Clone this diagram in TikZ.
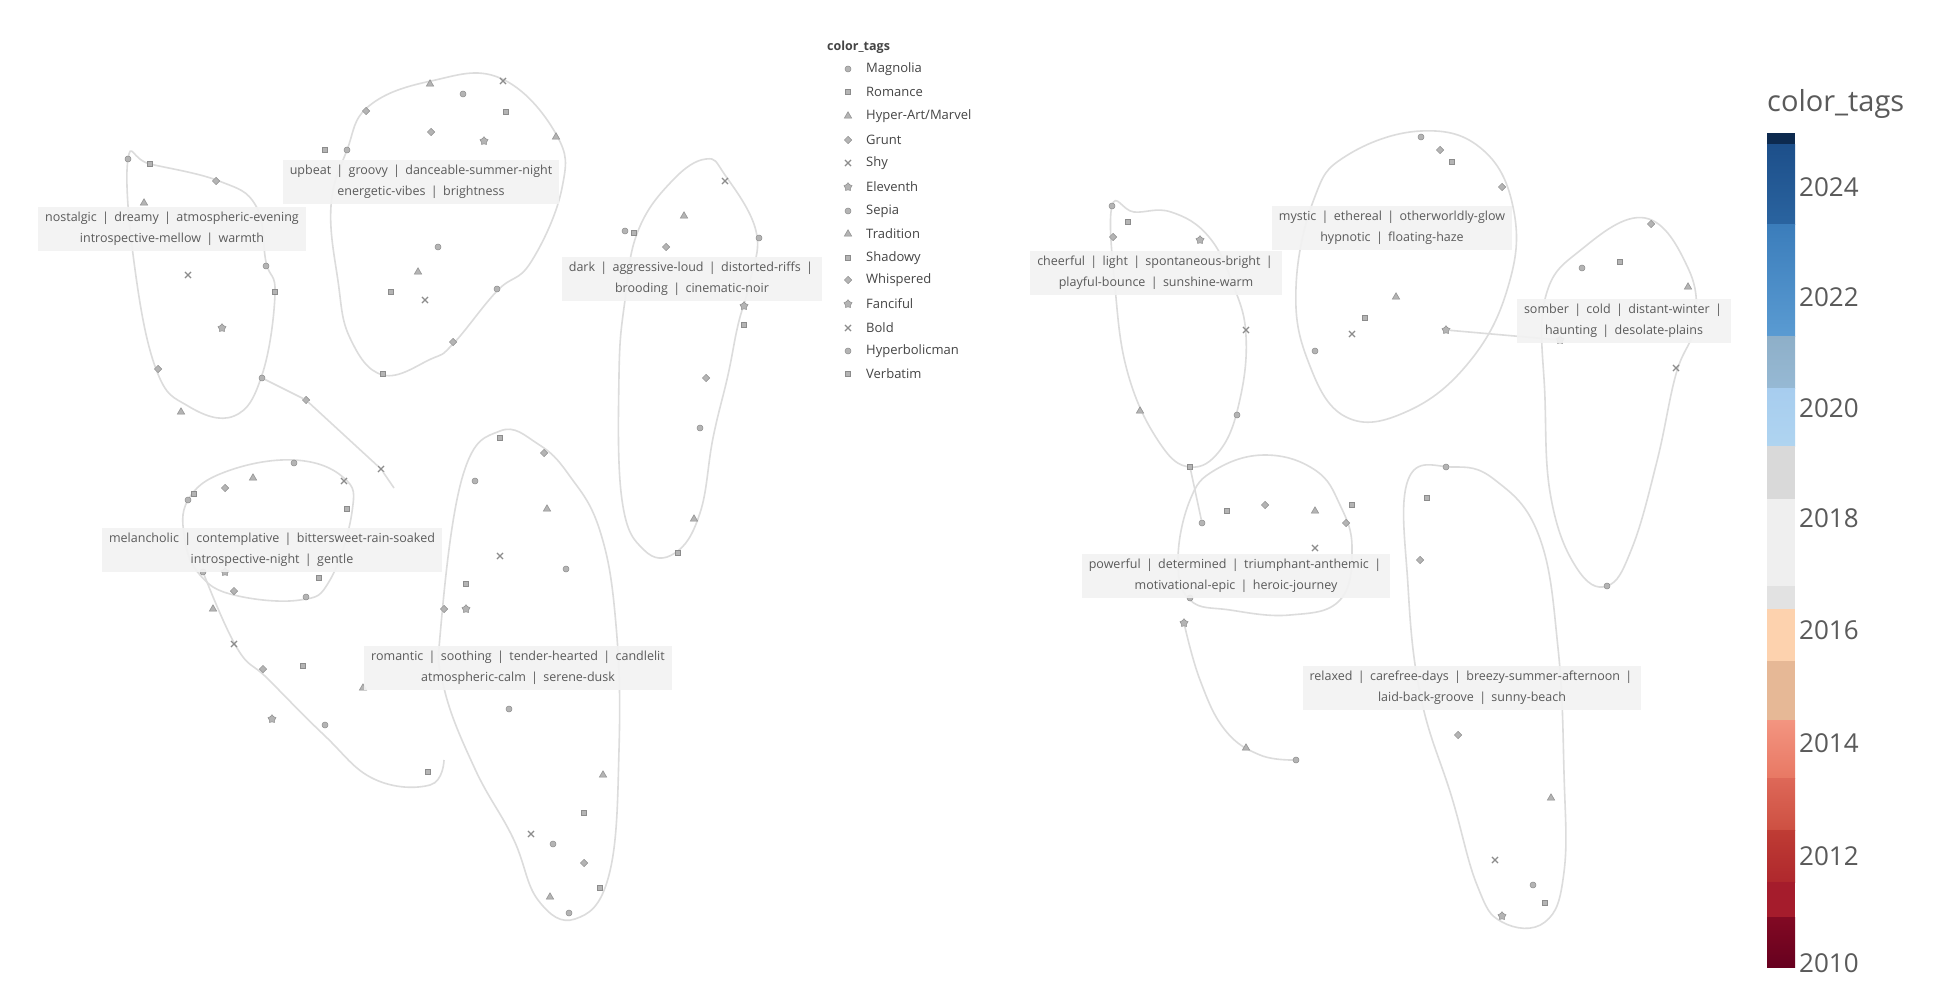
\documentclass[tikz,border=0pt]{standalone}
\usepackage{fontspec}
\setmainfont{Open Sans}
\usetikzlibrary{shapes.geometric,shapes.misc}
\definecolor{edgec}{HTML}{DCDCDC}
\definecolor{mkfill}{HTML}{B4B4B4}
\definecolor{mkdraw}{HTML}{8C8C8C}
\definecolor{lblbg}{HTML}{F2F2F2}
\definecolor{lbltext}{HTML}{5A5A5A}
\definecolor{legtext}{HTML}{444444}
\definecolor{cb01}{HTML}{0D2A4F}
\definecolor{cb02a}{HTML}{1D4F8A}\definecolor{cb02b}{HTML}{2A64A0}
\definecolor{cb03a}{HTML}{3B7DBB}\definecolor{cb03b}{HTML}{5A9BD2}
\definecolor{cb04a}{HTML}{8EAFC8}\definecolor{cb04b}{HTML}{96B9D4}
\definecolor{cb05a}{HTML}{A7CDEF}\definecolor{cb05b}{HTML}{AFD4F0}
\definecolor{cb06}{HTML}{D9D9D9}
\definecolor{cb07}{HTML}{EFEFEF}
\definecolor{cb08}{HTML}{E2E2E2}
\definecolor{cb09}{HTML}{FDD2AE}
\definecolor{cb10}{HTML}{E6B896}
\definecolor{cb11a}{HTML}{F39580}\definecolor{cb11b}{HTML}{E87864}
\definecolor{cb12a}{HTML}{DE6858}\definecolor{cb12b}{HTML}{CD5042}
\definecolor{cb13a}{HTML}{BF3C34}\definecolor{cb13b}{HTML}{AF282D}
\definecolor{cb14}{HTML}{A51C2C}
\definecolor{cb15a}{HTML}{820A23}\definecolor{cb15b}{HTML}{67001F}
\tikzset{
  edge/.style={draw=edgec, line width=1.6pt},
  mk/.style={inner sep=0pt, minimum size=6pt, fill=mkfill, draw=mkdraw, line width=0.5pt},
  m1/.style={circle},
  m2/.style={rectangle, minimum size=5pt},
  m3/.style={diamond, minimum size=7.5pt},
  m4/.style={regular polygon, regular polygon sides=3, minimum size=8.5pt},
  m5/.style={cross out, fill=none, minimum size=5pt, line width=1.1pt},
  m6/.style={star, star points=5, minimum size=8.5pt},
  lbl/.style={fill=lblbg, fill opacity=0.92, text opacity=1, text=lbltext, font=\fontsize{12.5}{21}\selectfont, align=center, inner xsep=7pt, inner ysep=5pt},
  legitem/.style={anchor=west, text=legtext, font=\fontsize{13}{14}\selectfont, inner sep=0pt},
  ticklbl/.style={anchor=west, text=lbltext, font=\fontsize{26}{28}\selectfont, inner sep=0pt}
}
\begin{document}
\begin{tikzpicture}[x=1pt,y=-1pt]
\useasboundingbox (0,0) rectangle (1954,992);
\fill[white] (0,0) rectangle (1954,992);

% ================= LEFT PANEL =================
\draw[edge] plot[smooth cycle, tension=0.7] coordinates {(128,159) (134,262) (156,369) (188,406) (234,416) (262,375) (275,294) (266,262) (256,206) (219,181) (150,164)};
\draw[edge] plot[smooth cycle, tension=0.7] coordinates {(347,150) (369,106) (431,81) (500,78) (556,134) (562,188) (531,262) (497,291) (453,344) (431,359) (383,375) (350,338) (338,281) (331,206)};
\draw[edge] plot[smooth cycle, tension=0.7] coordinates {(638,231) (672,181) (706,159) (725,175) (756,231) (750,281) (738,325) (728,375) (713,438) (700,513) (675,553) (644,550) (622,500) (619,375) (625,300)};
\draw[edge] plot[smooth cycle, tension=0.7] coordinates {(188,500) (225,472) (294,460) (344,478) (352,512) (330,580) (300,600) (234,595) (200,575) (185,540)};
\draw[edge] plot[smooth, tension=0.7] coordinates {(203,572) (237,648) (268,679) (324,735) (374,779) (430,785) (444,760)};
\draw[edge] plot[smooth cycle, tension=0.7] coordinates {(441,625) (463,475) (500,431) (538,444) (569,475) (600,531) (616,625) (619,750) (609,875) (575,919) (538,900) (513,838) (475,769) (444,688)};

% cluster A
\node[mk,m1] (a1) at (128,159) {}; \node[mk,m2] (a2) at (150,164) {};
\node[mk,m3] (a3) at (216,181) {}; \node[mk,m4] (a4) at (144,203) {};
\node[mk,m5] (a5) at (188,275) {}; \node[mk,m1] (a6) at (266,266) {};
\node[mk,m2] (a7) at (275,292) {}; \node[mk,m6] (a8) at (222,328) {};
\node[mk,m3] (a9) at (158,369) {}; \node[mk,m4] (a10) at (181,412) {};
\node[mk,m1] (a11) at (262,378) {};
\node[mk,m3] (ad1) at (306,400) {}; \node[mk,m5] (ad2) at (381,469) {};
\coordinate (ad3) at (394,488);
\draw[edge] (a11) -- (ad1) -- (ad2) -- (ad3);
% cluster B
\node[mk,m2] (b1) at (325,150) {}; \node[mk,m1] (b2) at (347,150) {};
\node[mk,m3] (b3) at (366,111) {}; \node[mk,m4] (b4) at (430,84) {};
\node[mk,m1] (b5) at (463,94) {}; \node[mk,m5] (b6) at (503,81) {};
\node[mk,m2] (b7) at (506,112) {}; \node[mk,m6] (b8) at (484,141) {};
\node[mk,m3] (b9) at (431,132) {}; \node[mk,m1] (b10) at (438,247) {};
\node[mk,m4] (b11) at (418,272) {}; \node[mk,m2] (b12) at (391,292) {};
\node[mk,m5] (b13) at (425,300) {}; \node[mk,m1] (b14) at (497,289) {};
\node[mk,m3] (b15) at (453,342) {}; \node[mk,m2] (b16) at (383,374) {};
\node[mk,m4] (b17) at (556,137) {};
% cluster C
\node[mk,m1] (c1) at (625,231) {}; \node[mk,m2] (c2) at (634,233) {};
\node[mk,m3] (c3) at (666,247) {}; \node[mk,m4] (c4) at (684,216) {};
\node[mk,m5] (c5) at (725,181) {}; \node[mk,m1] (c6) at (759,238) {};
\node[mk,m6] (c7) at (744,306) {}; \node[mk,m2] (c8) at (744,325) {};
\node[mk,m3] (c9) at (706,378) {}; \node[mk,m1] (c10) at (700,428) {};
\node[mk,m4] (c11) at (694,519) {}; \node[mk,m2] (c12) at (678,553) {};
% cluster D
\node[mk,m1] (d1) at (188,500) {}; \node[mk,m2] (d2) at (194,494) {};
\node[mk,m3] (d3) at (225,488) {}; \node[mk,m4] (d4) at (253,478) {};
\node[mk,m1] (d5) at (294,463) {}; \node[mk,m5] (d6) at (344,481) {};
\node[mk,m2] (d7) at (347,509) {}; \node[mk,m6] (d8) at (225,572) {};
\node[mk,m1] (d9) at (203,572) {}; \node[mk,m3] (d10) at (234,591) {};
\node[mk,m4] (d11) at (213,609) {}; \node[mk,m2] (d12) at (319,578) {};
\node[mk,m1] (d13) at (306,597) {}; \node[mk,m5] (d14) at (234,644) {};
\node[mk,m3] (d15) at (263,669) {}; \node[mk,m2] (d16) at (303,666) {};
\node[mk,m4] (d17) at (363,688) {}; \node[mk,m1] (d18) at (325,725) {};
\node[mk,m6] (d19) at (272,719) {}; \node[mk,m2] (d20) at (428,772) {};
% cluster E
\node[mk,m1] (e1) at (475,481) {}; \node[mk,m2] (e2) at (500,438) {};
\node[mk,m3] (e3) at (544,453) {}; \node[mk,m4] (e4) at (547,509) {};
\node[mk,m5] (e5) at (500,556) {}; \node[mk,m1] (e6) at (566,569) {};
\node[mk,m2] (e7) at (466,584) {}; \node[mk,m6] (e8) at (466,609) {};
\node[mk,m3] (e9) at (444,609) {}; \node[mk,m1] (e10) at (509,709) {};
\node[mk,m4] (e11) at (603,775) {}; \node[mk,m2] (e12) at (584,813) {};
\node[mk,m5] (e13) at (531,834) {}; \node[mk,m1] (e14) at (553,844) {};
\node[mk,m3] (e15) at (584,863) {}; \node[mk,m2] (e16) at (600,888) {};
\node[mk,m4] (e17) at (550,897) {}; \node[mk,m1] (e18) at (569,913) {};

% labels
\node[lbl] (L1) at (172,229) {nostalgic \,|\, dreamy \,|\, atmospheric-evening \\ introspective-mellow \,|\, warmth};
\node[lbl] (L2) at (421,182) {upbeat \,|\, groovy \,|\, danceable-summer-night \\ energetic-vibes \,|\, brightness};
\node[lbl] (L3) at (692,279) {dark \,|\, aggressive-loud \,|\, distorted-riffs \,|\, \\ brooding \,|\, cinematic-noir};
\node[lbl] (L4) at (272,550) {melancholic \,|\, contemplative \,|\, bittersweet-rain-soaked \\ introspective-night \,|\, gentle};
\node[lbl] (L5) at (518,668) {romantic \,|\, soothing \,|\, tender-hearted \,|\, candlelit \\ atmospheric-calm \,|\, serene-dusk};

% legend
\node[anchor=west, text=legtext, font=\bfseries\fontsize{12.5}{13}\selectfont, inner sep=0pt] (legt) at (827,47) {color\_tags};
\node[mk,m1] (lg1) at (848,69) {};   \node[legitem] (lt1) at (866,69) {Magnolia};
\node[mk,m2] (lg2) at (848,92) {};   \node[legitem] (lt2) at (866,92) {Romance};
\node[mk,m4] (lg3) at (848,116) {};  \node[legitem] (lt3) at (866,116) {Hyper-Art/Marvel};
\node[mk,m3] (lg4) at (848,140) {};  \node[legitem] (lt4) at (866,140) {Grunt};
\node[mk,m5] (lg5) at (848,163) {};  \node[legitem] (lt5) at (866,163) {Shy};
\node[mk,m6] (lg6) at (848,187) {};  \node[legitem] (lt6) at (866,187) {Eleventh};
\node[mk,m1] (lg7) at (848,211) {};  \node[legitem] (lt7) at (866,211) {Sepia};
\node[mk,m4] (lg8) at (848,234) {};  \node[legitem] (lt8) at (866,234) {Tradition};
\node[mk,m2] (lg9) at (848,258) {};  \node[legitem] (lt9) at (866,258) {Shadowy};
\node[mk,m3] (lg10) at (848,280) {}; \node[legitem] (lt10) at (866,280) {Whispered};
\node[mk,m6] (lg11) at (848,304) {}; \node[legitem] (lt11) at (866,304) {Fanciful};
\node[mk,m5] (lg12) at (848,328) {}; \node[legitem] (lt12) at (866,328) {Bold};
\node[mk,m1] (lg13) at (848,351) {}; \node[legitem] (lt13) at (866,351) {Hyperbolicman};
\node[mk,m2] (lg14) at (848,374) {}; \node[legitem] (lt14) at (866,374) {Verbatim};

% ================= RIGHT PANEL =================
\draw[edge] plot[smooth cycle, tension=0.7] coordinates {(1112,206) (1115,287) (1128,374) (1159,442) (1190,467) (1221,449) (1240,399) (1246,336) (1234,287) (1209,237) (1171,212) (1134,212)};
\draw[edge] plot[smooth cycle, tension=0.7] coordinates {(1314,199) (1346,156) (1421,131) (1483,150) (1514,212) (1508,287) (1470,361) (1408,411) (1346,417) (1308,361) (1296,287)};
\draw[edge] plot[smooth cycle, tension=0.7] coordinates {(1545,299) (1582,249) (1645,218) (1688,268) (1695,324) (1676,374) (1657,461) (1632,548) (1607,586) (1576,567) (1551,498) (1545,399)};
\draw[edge] plot[smooth cycle, tension=0.7] coordinates {(1190,500) (1215,470) (1265,455) (1315,470) (1340,505) (1352,548) (1340,600) (1290,615) (1230,610) (1190,600) (1178,560)};
\draw[edge] plot[smooth, tension=0.7] coordinates {(1184,623) (1200,680) (1225,730) (1260,755) (1296,760)};
\draw[edge] plot[smooth cycle, tension=0.7] coordinates {(1408,480) (1452,467) (1495,480) (1539,536) (1558,648) (1564,773) (1564,872) (1545,922) (1502,922) (1477,885) (1452,798) (1421,698) (1408,586)};

% cluster R1
\node[mk,m1] (p1) at (1112,206) {}; \node[mk,m2] (p2) at (1128,222) {};
\node[mk,m3] (p3) at (1113,237) {}; \node[mk,m4] (p4) at (1140,411) {};
\node[mk,m1] (p5) at (1237,415) {}; \node[mk,m5] (p6) at (1246,330) {};
\node[mk,m2] (p7) at (1190,467) {}; \node[mk,m6] (p8) at (1200,240) {};
% cluster R2
\node[mk,m1] (q1) at (1421,137) {}; \node[mk,m2] (q2) at (1452,162) {};
\node[mk,m3] (q3) at (1502,187) {}; \node[mk,m4] (q4) at (1396,297) {};
\node[mk,m5] (q5) at (1352,334) {}; \node[mk,m1] (q6) at (1315,351) {};
\node[mk,m6] (q7) at (1446,330) {}; \node[mk,m2] (q8) at (1365,318) {};
\node[mk,m3] (q9) at (1440,150) {};
% cluster R3
\node[mk,m1] (r1) at (1582,268) {}; \node[mk,m2] (r2) at (1620,262) {};
\node[mk,m3] (r3) at (1651,224) {}; \node[mk,m4] (r4) at (1688,287) {};
\node[mk,m5] (r5) at (1676,368) {}; \node[mk,m1] (r6) at (1607,586) {};
\node[mk,m6] (r7) at (1560,340) {};
% cluster R4
\node[mk,m1] (s1) at (1202,523) {}; \node[mk,m2] (s2) at (1227,511) {};
\node[mk,m3] (s3) at (1265,505) {}; \node[mk,m4] (s4) at (1315,511) {};
\node[mk,m5] (s5) at (1315,548) {}; \node[mk,m1] (s6) at (1190,598) {};
\node[mk,m6] (s7) at (1184,623) {}; \node[mk,m2] (s8) at (1352,505) {};
\node[mk,m3] (s9) at (1346,523) {}; \node[mk,m4] (s10) at (1246,748) {};
\node[mk,m1] (s11) at (1296,760) {};
% cluster R5
\node[mk,m1] (t1) at (1446,467) {}; \node[mk,m2] (t2) at (1427,498) {};
\node[mk,m3] (t3) at (1458,735) {}; \node[mk,m4] (t4) at (1551,798) {};
\node[mk,m5] (t5) at (1495,860) {}; \node[mk,m1] (t6) at (1533,885) {};
\node[mk,m6] (t7) at (1502,916) {}; \node[mk,m2] (t8) at (1545,903) {};
\node[mk,m3] (t9) at (1420,560) {};
\draw[edge] (p7) -- (s1);
\draw[edge] (q7) -- (r7);

% labels
\node[lbl] (R1) at (1156,273) {cheerful \,|\, light \,|\, spontaneous-bright \,|\, \\ playful-bounce \,|\, sunshine-warm};
\node[lbl] (R2) at (1392,228) {mystic \,|\, ethereal \,|\, otherworldly-glow \\ hypnotic \,|\, floating-haze};
\node[lbl] (R3) at (1624,321) {somber \,|\, cold \,|\, distant-winter \,|\, \\ haunting \,|\, desolate-plains};
\node[lbl] (R4) at (1236,576) {powerful \,|\, determined \,|\, triumphant-anthemic \,|\, \\ motivational-epic \,|\, heroic-journey};
\node[lbl] (R5) at (1472,688) {relaxed \,|\, carefree-days \,|\, breezy-summer-afternoon \,|\, \\ laid-back-groove \,|\, sunny-beach};

% ================= COLORBAR =================
\def\cbx{1767} \def\cbw{1795}
\fill[cb01] (\cbx,133) rectangle (\cbw,145);
\shade[top color=cb02a, bottom color=cb02b] (\cbx,145) rectangle (\cbw,225);
\shade[top color=cb03a, bottom color=cb03b] (\cbx,225) rectangle (\cbw,336);
\shade[top color=cb04a, bottom color=cb04b] (\cbx,336) rectangle (\cbw,388);
\shade[top color=cb05a, bottom color=cb05b] (\cbx,388) rectangle (\cbw,446);
\fill[cb06] (\cbx,446) rectangle (\cbw,499);
\fill[cb07] (\cbx,499) rectangle (\cbw,586);
\fill[cb08] (\cbx,586) rectangle (\cbw,609);
\fill[cb09] (\cbx,609) rectangle (\cbw,661);
\fill[cb10] (\cbx,661) rectangle (\cbw,720);
\shade[top color=cb11a, bottom color=cb11b] (\cbx,720) rectangle (\cbw,778);
\shade[top color=cb12a, bottom color=cb12b] (\cbx,778) rectangle (\cbw,830);
\shade[top color=cb13a, bottom color=cb13b] (\cbx,830) rectangle (\cbw,882);
\fill[cb14] (\cbx,882) rectangle (\cbw,917);
\shade[top color=cb15a, bottom color=cb15b] (\cbx,917) rectangle (\cbw,967);
\node[anchor=west, text=lbltext, font=\fontsize{29}{30}\selectfont, inner sep=0pt] (cbt) at (1767,104) {color\_tags};
\foreach \yy/\lab in {187/2024, 297/2022, 408/2020, 518/2018, 630/2016, 743/2014, 856/2012, 963/2010}{
  \node[ticklbl] at (1799,\yy) {\lab};
}
\end{tikzpicture}
\end{document}
